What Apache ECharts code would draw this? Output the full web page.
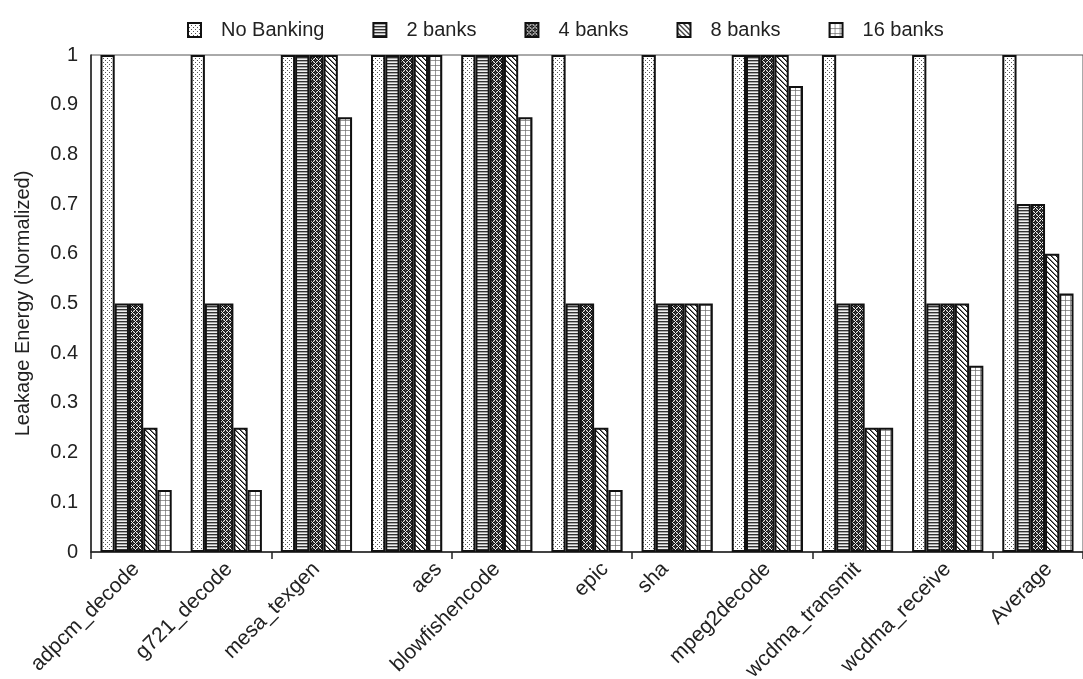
<!DOCTYPE html>
<html>
<head>
<meta charset="utf-8">
<script src="https://cdn.jsdelivr.net/npm/echarts@6/dist/echarts.min.js"></script>
<style>
html,body{margin:0;padding:0;background:#fff;}
#chart{width:1083px;height:679px;}
</style>
</head>
<body>
<div id="chart"></div>
<script>
const categories = ['adpcm_decode','g721_decode','mesa_texgen','aes','blowfishencode','epic','sha','mpeg2decode','wcdma_transmit','wcdma_receive','Average'];
const seriesNames = ['No Banking','2 banks','4 banks','8 banks','16 banks'];
const noBanking = [1,1,1,1,1,1,1,1,1,1,1];
const banks2 = [0.5,0.5,1,1,1,0.5,0.5,1,0.5,0.5,0.7];
const banks4 = [0.5,0.5,1,1,1,0.5,0.5,1,0.5,0.5,0.7];
const banks8 = [0.25,0.25,1,1,1,0.25,0.5,1,0.25,0.5,0.6];
const banks16 = [0.125,0.125,0.875,1,0.875,0.125,0.5,0.9375,0.25,0.375,0.52];
const yTicks = [0,0.1,0.2,0.3,0.4,0.5,0.6,0.7,0.8,0.9,1];

function tile(w,h,draw){
  const c=document.createElement('canvas'); c.width=w; c.height=h;
  const g=c.getContext('2d'); draw(g,w,h); return c;
}
function px(g,x,y,col){ g.fillStyle=col; g.fillRect(x,y,1,1); }

const patterns = [
  tile(4,4,(g)=>{ g.fillStyle='#fff'; g.fillRect(0,0,4,4); px(g,1,0,'#555'); px(g,3,2,'#555'); }),
  tile(1,3,(g)=>{ px(g,0,0,'#333'); px(g,0,1,'#a8a8a8'); px(g,0,2,'#f0f0f0'); }),
  tile(6,6,(g)=>{ g.fillStyle='#111'; g.fillRect(0,0,6,6);
    for(let y=0;y<6;y++) for(let x=0;x<6;x++){ if((x+y)%6===0||(x-y+6)%6===0) px(g,x,y,'#eee'); else if((x+y)%6===3||(x-y+6)%6===3) px(g,x,y,'#555'); } }),
  tile(5,5,(g)=>{ g.fillStyle='#fff'; g.fillRect(0,0,5,5);
    for(let y=0;y<5;y++) for(let x=0;x<5;x++){ const d=((x-y)%5+5)%5; if(d===0) px(g,x,y,'#111'); else if(d===1) px(g,x,y,'#777'); } }),
  tile(5,5,(g)=>{ g.fillStyle='#fff'; g.fillRect(0,0,5,5);
    g.fillStyle='#999'; g.fillRect(0,0,5,1); g.fillRect(0,0,1,5); px(g,0,0,'#777'); })
];

const dataSets = [noBanking,banks2,banks4,banks8,banks16];
const FONT = '"Liberation Sans", Arial, sans-serif';
const XFS = 21;
const GRID_LEFT = 91, GRID_TOP = 55, GRID_W = 997, GRID_H = 497;
// horizontal nudges of the slanted category labels (style only)
const labelNudge = {g721_decode:3, aes:32, epic:18, sha:-12, Average:11};

const chart = echarts.init(document.getElementById('chart'), null, {renderer:'canvas'});
chart.setOption({
  animation:false,
  backgroundColor:'#fff',
  textStyle:{fontFamily:FONT},
  legend:{
    data:seriesNames,
    left:182, top:15,
    itemWidth:13, itemHeight:14, itemGap:48,
    icon:'rect',
    textStyle:{fontSize:20, color:'#222', fontFamily:FONT, padding:[0,0,0,15]}
  },
  grid:{left:GRID_LEFT, top:GRID_TOP, width:GRID_W, height:GRID_H, show:true, borderColor:'#555', borderWidth:1, backgroundColor:'transparent'},
  xAxis:{
    type:'category', data:categories,
    axisLine:{lineStyle:{color:'#222', width:1.5}},
    axisTick:{show:true, length:7, lineStyle:{color:'#222', width:1.5}},
    axisLabel:{show:false}
  },
  yAxis:{
    type:'value', min:0, max:1, interval:0.1,
    name:'Leakage Energy (Normalized)', nameLocation:'middle', nameGap:58,
    nameTextStyle:{fontSize:20, color:'#222', fontFamily:FONT},
    axisLine:{show:true, lineStyle:{color:'#222', width:1.5}},
    axisTick:{show:false},
    splitLine:{show:false},
    axisLabel:{fontSize:20, color:'#222', margin:13, fontFamily:FONT,
      formatter:(v)=>{ const t=yTicks.find(k=>Math.abs(k-v)<1e-6); return t===undefined?'':(t===0?'0':t===1?'1':t.toFixed(1)); }}
  },
  series: seriesNames.map((n,i)=>({
    name:n, type:'bar', data:dataSets[i],
    barGap:'0%', barCategoryGap:'21%',
    itemStyle:{color:{image:patterns[i], repeat:'repeat'}, borderColor:'#111', borderWidth:2}
  }))
});

// Category labels slanted 45°, anchored at each category's axis position
const axisY = chart.convertToPixel({yAxisIndex:0}, 0);
const labels = categories.map(c => {
  const cx = chart.convertToPixel({xAxisIndex:0}, c);
  return {
    type:'text', x: cx + (labelNudge[c] || 0), y: axisY + 14, rotation: Math.PI/4, silent:true,
    style:{text:c, font: XFS + 'px ' + FONT, fill:'#222', align:'right', verticalAlign:'middle', textAlign:'right', textVerticalAlign:'middle'}
  };
});
chart.setOption({graphic: labels});
</script>
</body>
</html>
